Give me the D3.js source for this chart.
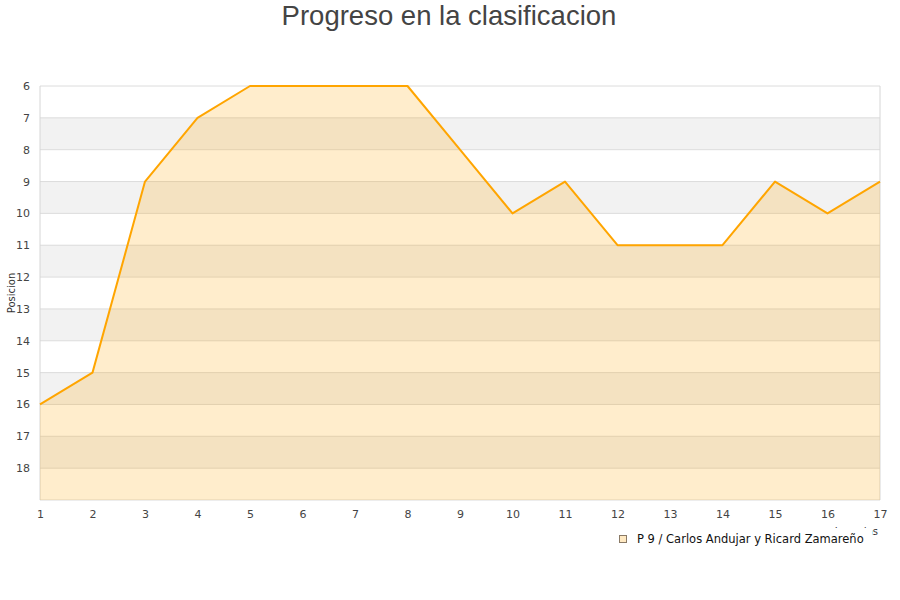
<!DOCTYPE html>
<html>
<head>
<meta charset="utf-8">
<script src="https://cdn.jsdelivr.net/npm/d3@7"></script>
<style>
  body { margin: 0; background: #fff; }
  svg { display: block; }
</style>
</head>
<body>
<div id="chart"></div>
<script>
// datos
var jornadas = [1, 2, 3, 4, 5, 6, 7, 8, 9, 10, 11, 12, 13, 14, 15, 16, 17];
var posiciones = [16, 15, 9, 7, 6, 6, 6, 6, 8, 10, 9, 11, 11, 11, 9, 10, 9];
var posTicks = [6, 7, 8, 9, 10, 11, 12, 13, 14, 15, 16, 17, 18];
var serieNombre = "P 9 / Carlos Andujar y Ricard Zamareño";

var w = 900, h = 600;
var pLeft = 40, pRight = 880, pTop = 86, pBottom = 500;

var svg = d3.select("#chart").append("svg")
    .attr("width", w)
    .attr("height", h);

var x = d3.scaleLinear().domain([1, 17]).range([pLeft, pRight]);
var y = d3.scaleLinear().domain([6, 19]).range([pTop, pBottom]);

// bandas alternas
svg.selectAll("rect.band")
    .data(posTicks.filter(function(d) { return d % 2 == 1; }))
    .enter().append("rect")
    .attr("class", "band")
    .attr("x", pLeft)
    .attr("width", pRight - pLeft)
    .attr("y", function(d) { return y(d); })
    .attr("height", y(1) - y(0))
    .attr("fill", "#f2f2f2");

// rejilla
svg.selectAll("line.grid")
    .data(posTicks.concat([19]))
    .enter().append("line")
    .attr("class", "grid")
    .attr("x1", pLeft).attr("x2", pRight)
    .attr("y1", function(d) { return y(d); })
    .attr("y2", function(d) { return y(d); })
    .attr("stroke", "#dcdcdc")
    .attr("stroke-width", 1);

svg.append("line")
    .attr("x1", pLeft).attr("x2", pLeft)
    .attr("y1", pTop).attr("y2", pBottom)
    .attr("stroke", "#d6d6d6");
svg.append("line")
    .attr("x1", pRight).attr("x2", pRight)
    .attr("y1", pTop).attr("y2", pBottom)
    .attr("stroke", "#d6d6d6");

// area + linea
var area = d3.area()
    .x(function(d, i) { return x(jornadas[i]); })
    .y0(y(19))
    .y1(function(d) { return y(d); });
var line = d3.line()
    .x(function(d, i) { return x(jornadas[i]); })
    .y(function(d) { return y(d); });

svg.append("path")
    .datum(posiciones)
    .attr("d", area)
    .attr("fill", "#ffa500")
    .attr("fill-opacity", 0.2);

svg.append("path")
    .datum(posiciones)
    .attr("d", line)
    .attr("fill", "none")
    .attr("stroke", "#ffa500")
    .attr("stroke-width", 2)
    .attr("stroke-linejoin", "round");

// ejes
var yAxis = d3.axisLeft(y).tickValues(posTicks).tickSize(0).tickPadding(10);
svg.append("g")
    .attr("transform", "translate(" + pLeft + ",0)")
    .call(yAxis)
    .call(function(g) { g.select(".domain").remove(); })
    .selectAll("text")
    .attr("font-family", "DejaVu Sans, sans-serif")
    .attr("font-size", 11)
    .attr("fill", "#444");

var xAxis = d3.axisBottom(x).tickValues(jornadas).tickSize(0).tickPadding(10);
svg.append("g")
    .attr("transform", "translate(0," + pBottom + ")")
    .call(xAxis)
    .call(function(g) { g.select(".domain").remove(); })
    .selectAll("text")
    .attr("font-family", "DejaVu Sans, sans-serif")
    .attr("font-size", 11)
    .attr("fill", "#444");

// titulos
svg.append("text")
    .attr("x", 449).attr("y", 25)
    .attr("text-anchor", "middle")
    .attr("font-family", "Liberation Sans, Arial, sans-serif")
    .attr("font-size", 27.5)
    .attr("fill", "#444")
    .text("Progreso en la clasificacion");

svg.append("text")
    .attr("transform", "translate(15,293) rotate(-90)")
    .attr("text-anchor", "middle")
    .attr("font-family", "DejaVu Sans, sans-serif")
    .attr("font-size", 10)
    .attr("fill", "#333")
    .text("Posicion");

// titulo eje x, casi tapado por la leyenda
svg.append("text")
    .attr("x", 878).attr("y", 535)
    .attr("text-anchor", "end")
    .attr("font-family", "DejaVu Sans, sans-serif")
    .attr("font-size", 10)
    .attr("fill", "#333")
    .text("Jornadas");

// leyenda
var leg = svg.append("g");
leg.append("rect")
    .attr("x", 610).attr("y", 528)
    .attr("width", 262).attr("height", 22)
    .attr("fill", "#fff");
leg.append("rect")
    .attr("x", 619.5).attr("y", 535.5)
    .attr("width", 7).attr("height", 7)
    .attr("fill", "#ffe9c2")
    .attr("stroke", "#8a7a66")
    .attr("stroke-width", 1);
leg.append("text")
    .attr("x", 637).attr("y", 543)
    .attr("font-family", "DejaVu Sans, sans-serif")
    .attr("font-size", 11.5)
    .attr("fill", "#111")
    .text(serieNombre);
</script>
</body>
</html>
